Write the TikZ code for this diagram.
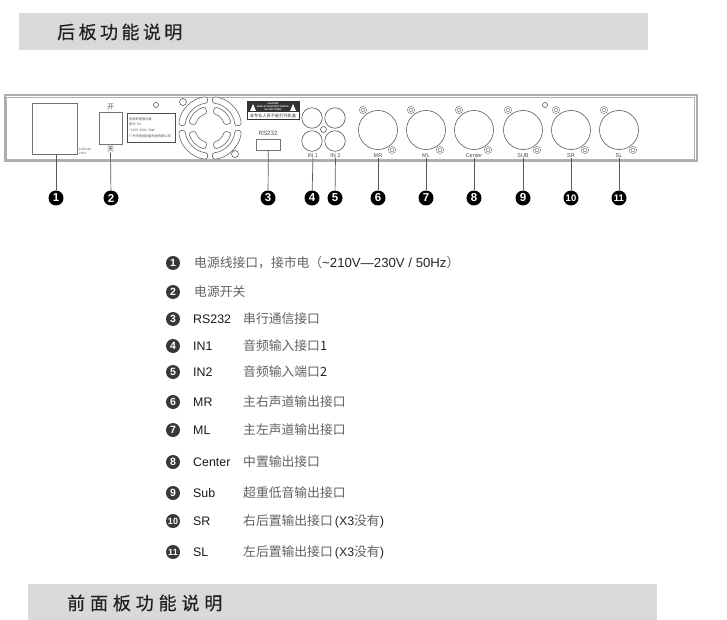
\documentclass[tikz,border=0pt]{standalone}
\usepackage{fontspec}
\setmainfont{Liberation Sans}
\newfontfamily\zhfont{Noto Sans CJK SC}
\newcommand{\zh}[1]{{\zhfont\color{zhgray}#1}}
\definecolor{zhgray}{gray}{0.38}
\definecolor{bargray}{gray}{0.85}
\definecolor{panelgray}{gray}{0.68}
\tikzset{
  headbar/.style={fill=bargray, draw=none, anchor=north west, inner sep=0pt},
  headtext/.style={anchor=west, inner sep=0pt, font=\zhfont\fontsize{18}{18}\selectfont, text=black!88},
  callout/.style={circle, fill=black, text=white, inner sep=0pt, minimum size=15pt, font=\bfseries\fontsize{11.5}{11}\selectfont},
  bullet/.style={circle, fill=black!78, text=white, inner sep=0pt, minimum size=14pt, font=\bfseries\fontsize{10.5}{10}\selectfont},
  partbox/.style={draw=black!55, line width=0.7pt, fill=white, inner sep=0pt, anchor=north west},
  portlabel/.style={inner sep=0pt, text=black!70, font=\fontsize{5.5}{6}\selectfont},
  roundport/.style={circle, draw=black!65, line width=0.6pt, inner sep=0pt},
  earport/.style={circle, draw=black!60, line width=0.5pt, double=white, double distance=1pt, fill=white, inner sep=0pt, minimum size=5.5pt},
  lead/.style={draw=black!65, line width=0.7pt},
  rowlabel/.style={anchor=west, inner sep=0pt, text=black!90, font=\fontsize{12.4}{14}\selectfont},
  rowtext/.style={anchor=west, inner sep=0pt, font=\fontsize{12.8}{14}\selectfont},
  slot/.style={draw=black!60, line width=0.6pt, rounded corners=2.5pt, fill=white}
}
\begin{document}
\begin{tikzpicture}[x=1pt, y=-1pt]
  \useasboundingbox (0,0) rectangle (727,620);

  % title bars
  \node[headbar, minimum width=629pt, minimum height=37pt] (topbar) at (19,13) {};
  \node[headtext] (toptitle) at (57,32) {\addfontfeature{LetterSpace=19,FakeBold=0.35}后板功能说明};
  \node[headbar, minimum width=629pt, minimum height=36pt] (lowbar) at (28,584) {};
  \node[headtext] (lowtitle) at (67,603) {\addfontfeature{LetterSpace=27,FakeBold=0.35}前面板功能说明};

  % rear panel
  \draw[panelgray, line width=2pt] (4.5,95.5) rectangle (696.5,161.5);
  \draw[black!30, line width=0.4pt] (6.5,97.5) rectangle (694.5,159.5);

  % power socket and switch
  \node[partbox, minimum width=45pt, minimum height=51pt] (socket) at (32,103) {};
  \node[inner sep=0pt, text=black!65, align=left, font=\fontsize{3.2}{4}\selectfont] (socketnote) at (85,151) {110Volts\\230V};
  \node[partbox, minimum width=23pt, minimum height=32pt] (switch) at (99,112) {};
  \node[inner sep=0pt, font=\zhfont\fontsize{7}{7}\selectfont, text=black!65] (switchon) at (110.5,107) {开};
  \node[inner sep=0pt, font=\zhfont\fontsize{7}{7}\selectfont, text=black!65] (switchoff) at (110.5,149) {关};
  \node[roundport, minimum size=5pt] (holeleft) at (156,105) {};

  % rating plate
  \node[partbox, draw=black!70, minimum width=48pt, minimum height=29pt] (plate) at (127,113) {};
  \node[anchor=west, inner sep=0pt, align=left, text=black!70, font=\zhfont\fontsize{3.2}{5.6}\selectfont] (platetext) at (129,127.5) {音频处理放大器\\型号: X3\\\textasciitilde 220V\ \ 50Hz\ \ 50W\\广州市音响设备科技有限公司};

  % fan
  \begin{scope}[shift={(210,128)}]
    \foreach \a in {0,90,180,270} {
      \draw[slot] (\a+5:31.5) arc[start angle=\a+5, end angle=\a+85, radius=31.5] -- (\a+85:25) arc[start angle=\a+85, end angle=\a+5, radius=25] -- cycle;
      \draw[slot] (\a+12:21.5) arc[start angle=\a+12, end angle=\a+78, radius=21.5] -- (\a+78:14.5) arc[start angle=\a+78, end angle=\a+12, radius=14.5] -- cycle;
    }
  \end{scope}
  \node[roundport, minimum size=7pt] (fanscrewa) at (183,102) {};
  \node[roundport, minimum size=7pt] (fanscrewb) at (235,154) {};

  % caution plate
  \node[partbox, draw=black!80, minimum width=52pt, minimum height=18pt] (caution) at (247,101) {};
  \fill[black!80] (247,101) rectangle (299,112.5);
  \node[inner sep=0pt, text=white, align=center, font=\bfseries\fontsize{2.4}{2.9}\selectfont] (cautiontext) at (273,106.8) {CAUTION\\RISK OF ELECTRIC SHOCK\\DO NOT OPEN};
  \fill[white] (250,111) -- (253,104) -- (256,111) -- cycle;
  \fill[white] (290,111) -- (293,104) -- (296,111) -- cycle;
  \node[inner sep=0pt, text=black!80, font=\zhfont\fontsize{4.2}{5}\selectfont] (cautionzh) at (273,115.8) {非专业人员不能打开机盖};

  % rs232
  \node[inner sep=0pt, text=black!70, font=\fontsize{6.2}{7}\selectfont] (rslabel) at (268,133) {RS232};
  \node[partbox, minimum width=24pt, minimum height=11pt] (rsport) at (256,139) {};

  % inputs
  \node[roundport, minimum size=20.5pt] (rcaa) at (312,118) {};
  \node[roundport, minimum size=20.5pt] (rcab) at (335,118) {};
  \node[roundport, minimum size=20.5pt] (rcac) at (312,141) {};
  \node[roundport, minimum size=20.5pt] (rcad) at (335,141) {};
  \node[roundport, minimum size=6pt] (rcamid) at (323.5,129.5) {};
  \node[portlabel] (labIN1) at (313,155.5) {IN 1};
  \node[portlabel] (labIN2) at (335.5,155.5) {IN 2};

  % outputs
  \node[roundport, minimum size=5pt] (holeright) at (545,105) {};
  \foreach \x/\lab/\txt in {378/MR/MR, 426/ML/ML, 474/Center/Center, 523/SUB/SUB, 571/SR/SR, 619/SL/SL} {
    \node[earport] (ear\lab a) at (\x-15,110) {};
    \node[earport] (ear\lab b) at (\x+14,150) {};
    \node[roundport, fill=white, minimum size=39pt] (xlr\lab) at (\x,130) {};
    \node[portlabel] (lab\lab) at (\x,155.5) {\txt};
  }

  % callouts
  \foreach \n/\x in {1/56, 2/111, 3/268, 4/312, 5/335, 6/378, 7/426, 8/474, 9/523} {
    \node[callout] (num\n) at (\x,198) {\n};
  }
  \node[callout, font=\bfseries\fontsize{9.5}{9}\selectfont] (num10) at (571,198) {10};
  \node[callout, font=\bfseries\fontsize{9.5}{9}\selectfont] (num11) at (619,198) {11};
  \draw[lead] (socket.south -| num1) -- (num1);
  \draw[lead] (switchoff) -- (num2);
  \draw[lead] (rsport) -- (num3);
  \draw[lead] (labIN1) -- (num4);
  \draw[lead] (labIN2) -- (num5);
  \draw[lead] (labMR) -- (num6);
  \draw[lead] (labML) -- (num7);
  \draw[lead] (labCenter) -- (num8);
  \draw[lead] (labSUB) -- (num9);
  \draw[lead] (labSR) -- (num10);
  \draw[lead] (labSL) -- (num11);

  % list
  \node[bullet] (rowa) at (173,263) {1};
  \node[rowtext] (rowatext) at (194,263) {\zh{电源线接口，接市电（}\textcolor{black!85}{\fontsize{13.2}{14}\selectfont\textasciitilde 210V—230V / 50Hz}\zh{）}};
  \node[bullet] (rowb) at (173,292) {2};
  \node[rowtext] (rowbtext) at (194,292) {\zh{电源开关}};
  \foreach \n/\y/\lab/\txt in {3/319/RS232/串行通信接口, 4/346/IN1/音频输入接口\textcolor{black!85}{1}, 5/372/IN2/音频输入端口\textcolor{black!85}{2}, 6/402/MR/主右声道输出接口, 7/430/ML/主左声道输出接口, 8/462/Center/中置输出接口, 9/493/Sub/超重低音输出接口} {
    \node[bullet] (row\n) at (173,\y) {\n};
    \node[rowlabel] (row\n label) at (193,\y) {\lab};
    \node[rowtext] (row\n text) at (243,\y) {\zh{\txt}};
  }
  \foreach \n/\y/\lab/\txt in {10/521/SR/右后置输出接口, 11/552/SL/左后置输出接口} {
    \node[bullet, font=\bfseries\fontsize{9}{9}\selectfont] (row\n) at (173,\y) {\n};
    \node[rowlabel] (row\n label) at (193,\y) {\lab};
    \node[rowtext] (row\n text) at (243,\y) {\zh{\txt}\textcolor{black!85}{\fontsize{12.4}{14}\selectfont\,(X3}\zh{没有}\textcolor{black!85}{)}};
  }
\end{tikzpicture}
\end{document}
